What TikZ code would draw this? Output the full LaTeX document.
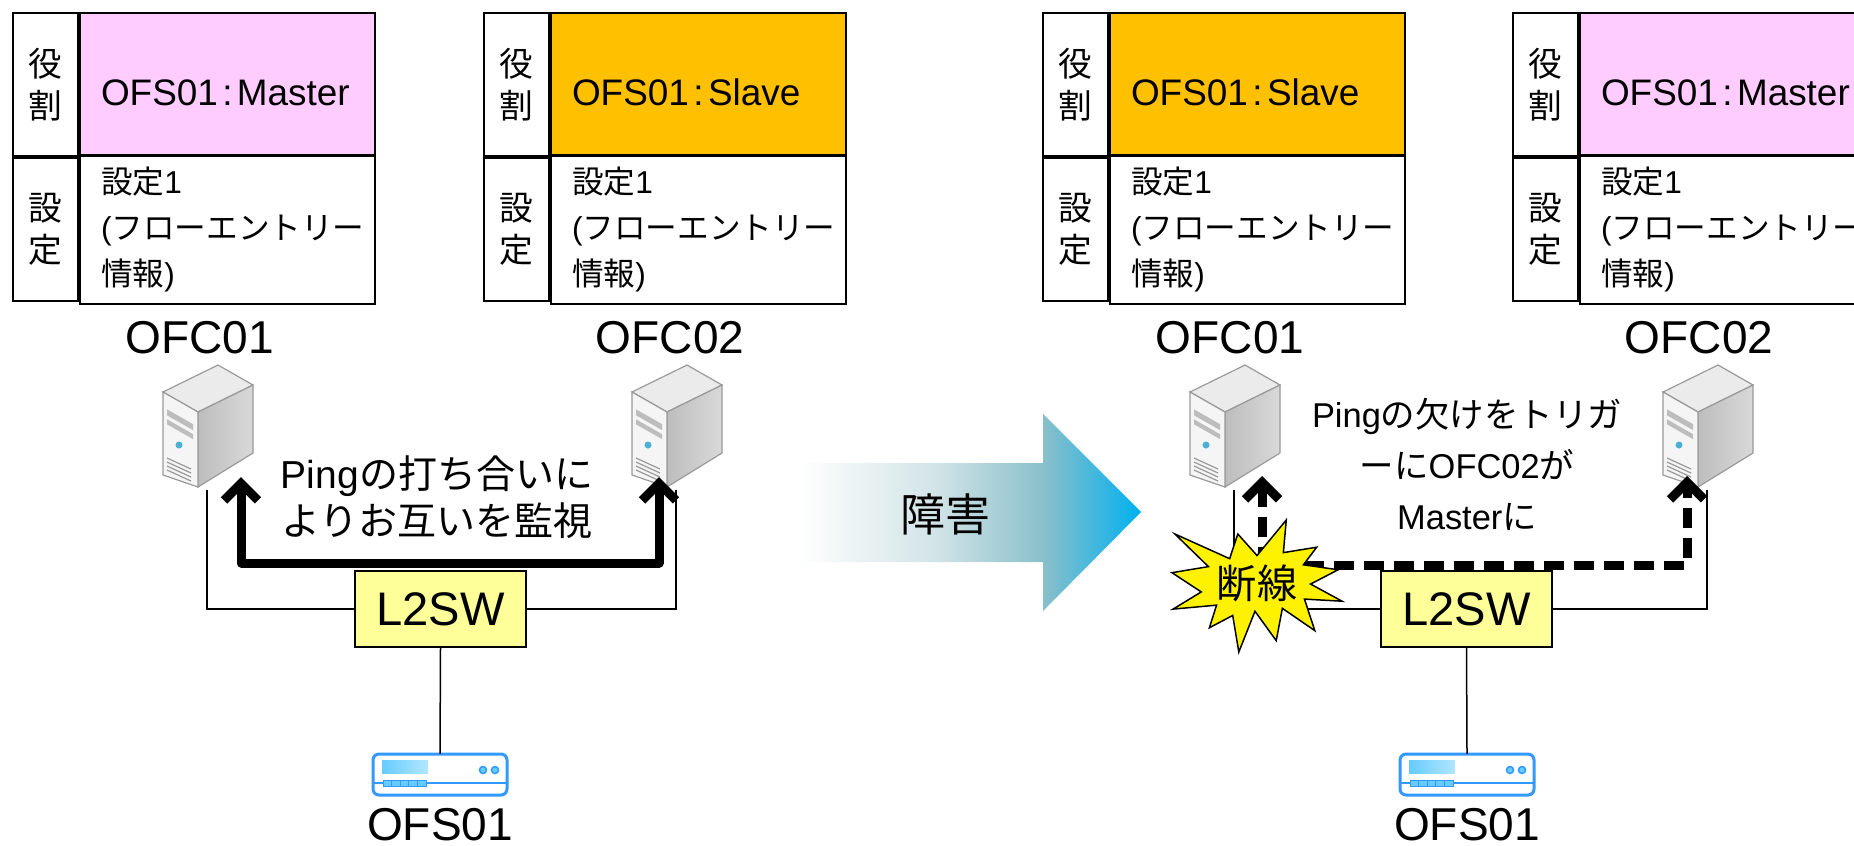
\documentclass[tikz,border=0pt]{standalone}
\usepackage{fontspec}
\setmainfont{Liberation Sans}
\newfontfamily\jp{Noto Sans CJK JP}
\usetikzlibrary{positioning, arrows.meta}

\definecolor{masterpink}{HTML}{FFCCFF}
\definecolor{slaveorange}{HTML}{FFC000}
\definecolor{swyellow}{HTML}{FFFF99}
\definecolor{swblue}{HTML}{3399FF}
\definecolor{portblue}{HTML}{66CCFF}
\definecolor{srvline}{HTML}{9A9A9A}
\definecolor{srvtop}{HTML}{EBEBEB}
\definecolor{srvfront}{HTML}{F5F5F5}
\definecolor{srvside}{HTML}{BDBDBD}
\definecolor{srvsidelight}{HTML}{D9D9D9}
\definecolor{arrowmid}{HTML}{D2E4E7}
\definecolor{arrowteal}{HTML}{88BFCA}
\definecolor{arrowcyan}{HTML}{00B0F0}

\pgfdeclarehorizontalshading{faultarrow}{100bp}{color(0bp)=(white); color(25bp)=(white); color(45bp)=(arrowmid); color(61bp)=(arrowteal); color(75bp)=(arrowcyan); color(100bp)=(arrowcyan)}

\tikzset{
    headcell/.style={draw, line width=0.02cm, minimum width=0.65cm, minimum height=1.43cm, inner sep=0pt, align=center, font=\jp\fontsize{9.6pt}{11.8pt}\selectfont},
    rolecell/.style={draw, line width=0.02cm, minimum width=2.95cm, minimum height=1.43cm, text width=2.53cm, align=left, text height=0.42cm, text depth=0cm, font=\fontsize{10.5pt}{13pt}\selectfont},
    setcell/.style={draw, line width=0.02cm, minimum width=2.95cm, minimum height=1.43cm, text width=2.53cm, align=left, font=\fontsize{9pt}{13.1pt}\selectfont},
    srv/.style={minimum width=0.92cm, minimum height=1.24cm, inner sep=0pt},
    swnode/.style={minimum width=1.34cm, minimum height=0.41cm, inner sep=0pt},
    l2sw/.style={draw, line width=0.02cm, fill=swyellow, minimum width=1.71cm, minimum height=0.76cm, font=\fontsize{13.4pt}{16pt}\selectfont},
    devlabel/.style={inner sep=0pt, font=\fontsize{13.1pt}{15pt}\selectfont},
    link/.style={line width=0.015cm},
    ping/.style={line width=0.09cm, line join=round, {Straight Barb[length=0.17cm, width=0.34cm]}-{Straight Barb[length=0.17cm, width=0.34cm]}},
    lostping/.style={ping, dash pattern=on 0.2cm off 0.1cm},
    burst/.style={fill=yellow, draw=black, line width=0.015cm},
    pics/servericon/.style={code={
        % top, front and side faces
        \filldraw[fill=srvtop, draw=srvline, line width=0.012cm] (-0.44,0.35) -- (0.11,0.62) -- (0.46,0.42) -- (-0.09,0.15) -- cycle;
        \shade[left color=srvside, right color=srvsidelight, draw=srvline, line width=0.012cm] (-0.09,0.15) -- (0.46,0.42) -- (0.46,-0.26) -- (-0.09,-0.60) -- cycle;
        \filldraw[fill=srvfront, draw=srvline, line width=0.012cm] (-0.44,0.35) -- (-0.09,0.15) -- (-0.09,-0.60) -- (-0.44,-0.48) -- cycle;
        % drive bays
        \fill[srvside] (-0.40,0.177) -- (-0.14,0.029) -- (-0.14,-0.031) -- (-0.40,0.117) -- cycle;
        \fill[srvside] (-0.40,0.077) -- (-0.14,-0.071) -- (-0.14,-0.121) -- (-0.40,0.027) -- cycle;
        % power lamp and vents
        \fill[arrowcyan!80!black!70] (-0.28,-0.18) circle (0.035);
        \draw[srvline, line width=0.012cm] (-0.40,-0.31) -- (-0.16,-0.42);
        \draw[srvline, line width=0.012cm] (-0.40,-0.35) -- (-0.16,-0.46);
        \draw[srvline, line width=0.012cm] (-0.40,-0.39) -- (-0.16,-0.50);
        \draw[srvline, line width=0.012cm] (-0.40,-0.43) -- (-0.16,-0.54);
    }},
    pics/switchicon/.style={code={
        \draw[swblue, fill=white, line width=0.03cm, rounded corners=0.06cm] (-0.67,0.21) rectangle (0.67,-0.20);
        \fill[left color=portblue, right color=portblue!50] (-0.58,0.15) rectangle (-0.12,0.02);
        \draw[swblue, line width=0.025cm] (-0.67,-0.08) -- (0.67,-0.08);
        \draw[swblue, fill=portblue, line width=0.01cm] (-0.57,-0.05) rectangle (-0.484,-0.11);
        \draw[swblue, fill=portblue, line width=0.01cm] (-0.484,-0.05) rectangle (-0.398,-0.11);
        \draw[swblue, fill=portblue, line width=0.01cm] (-0.398,-0.05) rectangle (-0.312,-0.11);
        \draw[swblue, fill=portblue, line width=0.01cm] (-0.312,-0.05) rectangle (-0.226,-0.11);
        \draw[swblue, fill=portblue, line width=0.01cm] (-0.226,-0.05) rectangle (-0.14,-0.11);
        \draw[swblue, fill=portblue, line width=0.015cm] (0.43,0.05) circle (0.035);
        \draw[swblue, fill=portblue, line width=0.015cm] (0.55,0.05) circle (0.035);
    }}
}

\begin{document}
\begin{tikzpicture}
    \useasboundingbox (0,0) rectangle (18.54,-8.45);
    \clip (0,0) rectangle (18.54,-8.45);

    % tables of the two controllers, before and after
    \node[headcell, anchor=north west] (t1role) at (0.12,-0.12) {役\\割};
    \node[rolecell, fill=masterpink, right=0pt of t1role] (t1state) {OFS01\hspace{0.12em}:\hspace{0.12em}Master};
    \node[headcell, below=0pt of t1role] (t1head) {設\\定};
    \node[setcell, right=0pt of t1head] (t1flow) {{\jp 設定}1\\({\jp フローエントリー}\\{\jp 情報})};

    \node[headcell, anchor=north west] (t2role) at (4.83,-0.12) {役\\割};
    \node[rolecell, fill=slaveorange, right=0pt of t2role] (t2state) {OFS01\hspace{0.12em}:\hspace{0.12em}Slave};
    \node[headcell, below=0pt of t2role] (t2head) {設\\定};
    \node[setcell, right=0pt of t2head] (t2flow) {{\jp 設定}1\\({\jp フローエントリー}\\{\jp 情報})};

    \node[headcell, anchor=north west] (t3role) at (10.42,-0.12) {役\\割};
    \node[rolecell, fill=slaveorange, right=0pt of t3role] (t3state) {OFS01\hspace{0.12em}:\hspace{0.12em}Slave};
    \node[headcell, below=0pt of t3role] (t3head) {設\\定};
    \node[setcell, right=0pt of t3head] (t3flow) {{\jp 設定}1\\({\jp フローエントリー}\\{\jp 情報})};

    \node[headcell, anchor=north west] (t4role) at (15.12,-0.12) {役\\割};
    \node[rolecell, fill=masterpink, right=0pt of t4role] (t4state) {OFS01\hspace{0.12em}:\hspace{0.12em}Master};
    \node[headcell, below=0pt of t4role] (t4head) {設\\定};
    \node[setcell, right=0pt of t4head] (t4flow) {{\jp 設定}1\\({\jp フローエントリー}\\{\jp 情報})};

    % fault arrow in the middle
    \shade[shading=faultarrow] (7.98,-4.63) -- (10.43,-4.63) -- (10.43,-4.14) -- (11.41,-5.12) -- (10.43,-6.11) -- (10.43,-5.62) -- (7.98,-5.62) -- cycle;
    \node[font=\jp\fontsize{12.8pt}{15pt}\selectfont] (fault) at (9.45,-5.14) {障害};

    % controllers and switches
    \node[srv] (ofc1) at (2.07,-4.27) {};
    \node[srv] (ofc2) at (6.76,-4.27) {};
    \node[srv] (ofc1b) at (12.34,-4.27) {};
    \node[srv] (ofc2b) at (17.07,-4.27) {};
    \pic at (ofc1) {servericon};
    \pic at (ofc2) {servericon};
    \pic at (ofc1b) {servericon};
    \pic at (ofc2b) {servericon};

    \node[l2sw] (sw1) at (4.405,-6.09) {L2SW};
    \node[l2sw] (sw2) at (14.665,-6.09) {L2SW};
    \node[swnode] (ofs1) at (4.40,-7.75) {};
    \node[swnode] (ofs1b) at (14.67,-7.75) {};
    \pic at (ofs1) {switchicon};
    \pic at (ofs1b) {switchicon};

    \draw[link] (ofc1.south) |- (sw1.west);
    \draw[link] (ofc2.south) |- (sw1.east);
    \draw[link] (sw1.south) -- (ofs1.north);
    \draw[link] (ofc1b.south) |- (sw2.west);
    \draw[link] (ofc2b.south) |- (sw2.east);
    \draw[link] (sw2.south) -- (ofs1b.north);

    % heartbeat between the controllers
    \coordinate (ping1) at (2.41,-4.77);
    \coordinate (ping2) at (6.59,-4.77);
    \draw[ping] (ping1) -- ++(0,-0.86) -| (ping2);
    \node[align=center, font=\fontsize{11.1pt}{13.4pt}\selectfont] (pingtext) at (4.37,-4.97) {Ping{\jp の打ち合いに}\\{\jp よりお互いを監視}};

    \coordinate (lost1) at (12.62,-4.76);
    \coordinate (lost2) at (16.87,-4.76);
    \draw[lostping] (lost1) -- ++(0,-0.89) -| (lost2);
    \node[align=center, font=\fontsize{9.8pt}{14.5pt}\selectfont] (losttext) at (14.67,-4.64) {Ping{\jp の欠けをトリガ}\\{\jp ーに}OFC02{\jp が}\\Master{\jp に}};

    % broken link mark
    \begin{scope}[shift={(11.72,-5.20)}, xscale=1.70, yscale=-1.32]
        \draw[burst] (0.500,0.269) -- (0.672,0) -- (0.655,0.247) -- (0.851,0.206) -- (0.773,0.339) -- (0.977,0.377) -- (0.815,0.485) -- (1,0.615) -- (0.779,0.599) -- (0.840,0.838) -- (0.649,0.669) -- (0.613,0.914) -- (0.488,0.691) -- (0.393,1) -- (0.357,0.723) -- (0.220,0.816) -- (0.262,0.645) -- (0.006,0.675) -- (0.172,0.545) -- (0,0.399) -- (0.214,0.353) -- (0.017,0.106) -- (0.339,0.293) -- (0.387,0.106) -- cycle;
    \end{scope}
    \node[font=\jp\fontsize{11.4pt}{13pt}\selectfont] (cut) at (12.57,-5.83) {断線};

    % device names
    \node[devlabel, above=0.1cm of ofc1, xshift=-0.07cm] (ofc1name) {OFC01};
    \node[devlabel, above=0.1cm of ofc2, xshift=-0.06cm] (ofc2name) {OFC02};
    \node[devlabel, above=0.1cm of ofc1b, xshift=-0.04cm] (ofc1bname) {OFC01};
    \node[devlabel, above=0.1cm of ofc2b, xshift=-0.08cm] (ofc2bname) {OFC02};
    \node[devlabel, below=0.11cm of ofs1] (ofs1name) {OFS01};
    \node[devlabel, below=0.11cm of ofs1b] (ofs1bname) {OFS01};
\end{tikzpicture}
\end{document}
